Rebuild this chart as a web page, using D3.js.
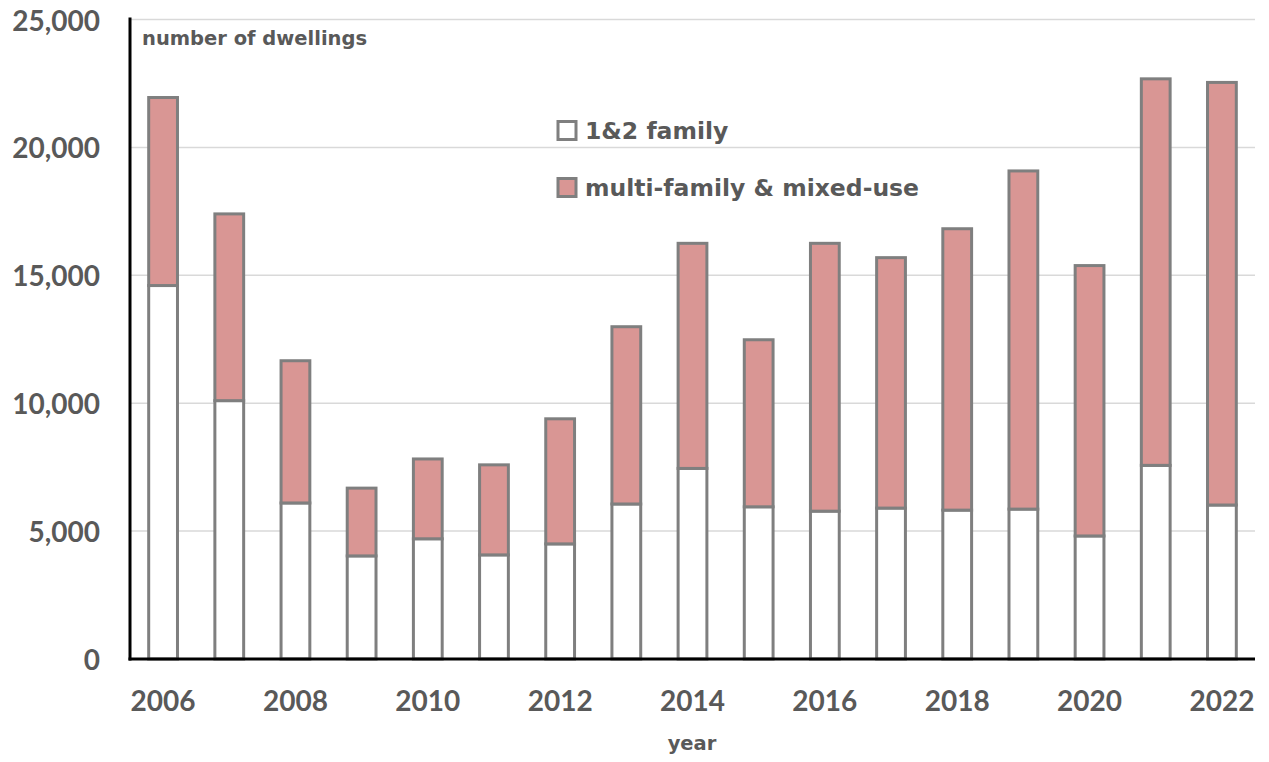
<!DOCTYPE html>
<html>
<head>
<meta charset="utf-8">
<script src="https://cdn.jsdelivr.net/npm/d3@7"></script>
<style>
  html, body { margin: 0; padding: 0; background: #fff; }
  svg { display: block; }
  text { font-family: Lato, "Open Sans", sans-serif; font-weight: bold; fill: #595959; }
  text.wide { font-family: "DejaVu Sans", sans-serif; }
</style>
</head>
<body>
<svg id="chart" width="1269" height="762"></svg>
<script>
const years = ["2006","2007","2008","2009","2010","2011","2012","2013","2014","2015","2016","2017","2018","2019","2020","2021","2022"];
const oneTwoFamily = [14600, 10100, 6100, 4030, 4700, 4070, 4500, 6060, 7450, 5950, 5780, 5900, 5820, 5860, 4810, 7570, 6020];
const multiFamily  = [7350, 7300, 5560, 2650, 3120, 3520, 4890, 6930, 8800, 6530, 10470, 9790, 11000, 13220, 10570, 15110, 16520];
const seriesNames = ["1&2 family", "multi-family & mixed-use"];
const seriesColors = ["#ffffff", "#d99694"];
const yTicks = [0, 5000, 10000, 15000, 20000, 25000];
const xTickLabels = ["2006","2008","2010","2012","2014","2016","2018","2020","2022"];

const svg = d3.select("#chart");
const pLeft = 130, pRight = 1255, pTop = 19.5, pBottom = 659;

const x = d3.scaleBand().domain(years).range([pLeft, pRight]).paddingInner(0.565).paddingOuter(0.2825);
const y = d3.scaleLinear().domain([0, 25000]).range([pBottom, pTop]);

// gridlines
svg.append("g").selectAll("line").data(yTicks.filter(d => d > 0)).join("line")
  .attr("x1", pLeft).attr("x2", pRight)
  .attr("y1", d => y(d)).attr("y2", d => y(d))
  .attr("stroke", "#d9d9d9").attr("stroke-width", 1.5);

// y labels
const fmt = d3.format(",");
svg.append("g").selectAll("text").data(yTicks).join("text")
  .attr("x", 100).attr("y", d => y(d))
  .attr("text-anchor", "end").attr("dominant-baseline", "central")
  .style("font-size", "28px")
  .text(d => fmt(d));

// stacked data
const rows = years.map((yr, i) => ({ year: yr, s0: oneTwoFamily[i], s1: multiFamily[i] }));
const stack = d3.stack().keys(["s0", "s1"])(rows);

svg.append("g").selectAll("g").data(stack).join("g")
  .attr("fill", (d, i) => seriesColors[i])
  .selectAll("rect").data(d => d).join("rect")
  .attr("x", d => x(d.data.year))
  .attr("width", x.bandwidth())
  .attr("y", d => y(d[1]))
  .attr("height", d => y(d[0]) - y(d[1]))
  .attr("stroke", "#7f7f7f").attr("stroke-width", 3);

// axes lines
svg.append("line").attr("x1", pLeft).attr("x2", pLeft).attr("y1", pTop - 2).attr("y2", pBottom + 1.5)
  .attr("stroke", "#000").attr("stroke-width", 3);
svg.append("line").attr("x1", pLeft - 1.5).attr("x2", pRight).attr("y1", pBottom).attr("y2", pBottom)
  .attr("stroke", "#000").attr("stroke-width", 3);

// x labels
svg.append("g").selectAll("text").data(xTickLabels).join("text")
  .attr("x", d => x(d) + x.bandwidth() / 2).attr("y", 711)
  .attr("text-anchor", "middle")
  .style("font-size", "28px")
  .text(d => d);

// axis titles
svg.append("text").attr("class", "wide").attr("x", 142).attr("y", 45).style("font-size", "19.5px").text("number of dwellings");
svg.append("text").attr("class", "wide").attr("x", 692).attr("y", 750).attr("text-anchor", "middle").style("font-size", "19.5px").text("year");

// legend
const lg = svg.append("g");
seriesNames.forEach((name, i) => {
  const cy = 130.5 + i * 57;
  lg.append("rect").attr("x", 558).attr("y", cy - 9).attr("width", 18).attr("height", 18)
    .attr("fill", seriesColors[i]).attr("stroke", "#7f7f7f").attr("stroke-width", 3);
  lg.append("text").attr("class", "wide").attr("x", 585).attr("y", cy).attr("dominant-baseline", "central")
    .style("font-size", "23.5px").text(name);
});
</script>
</body>
</html>
